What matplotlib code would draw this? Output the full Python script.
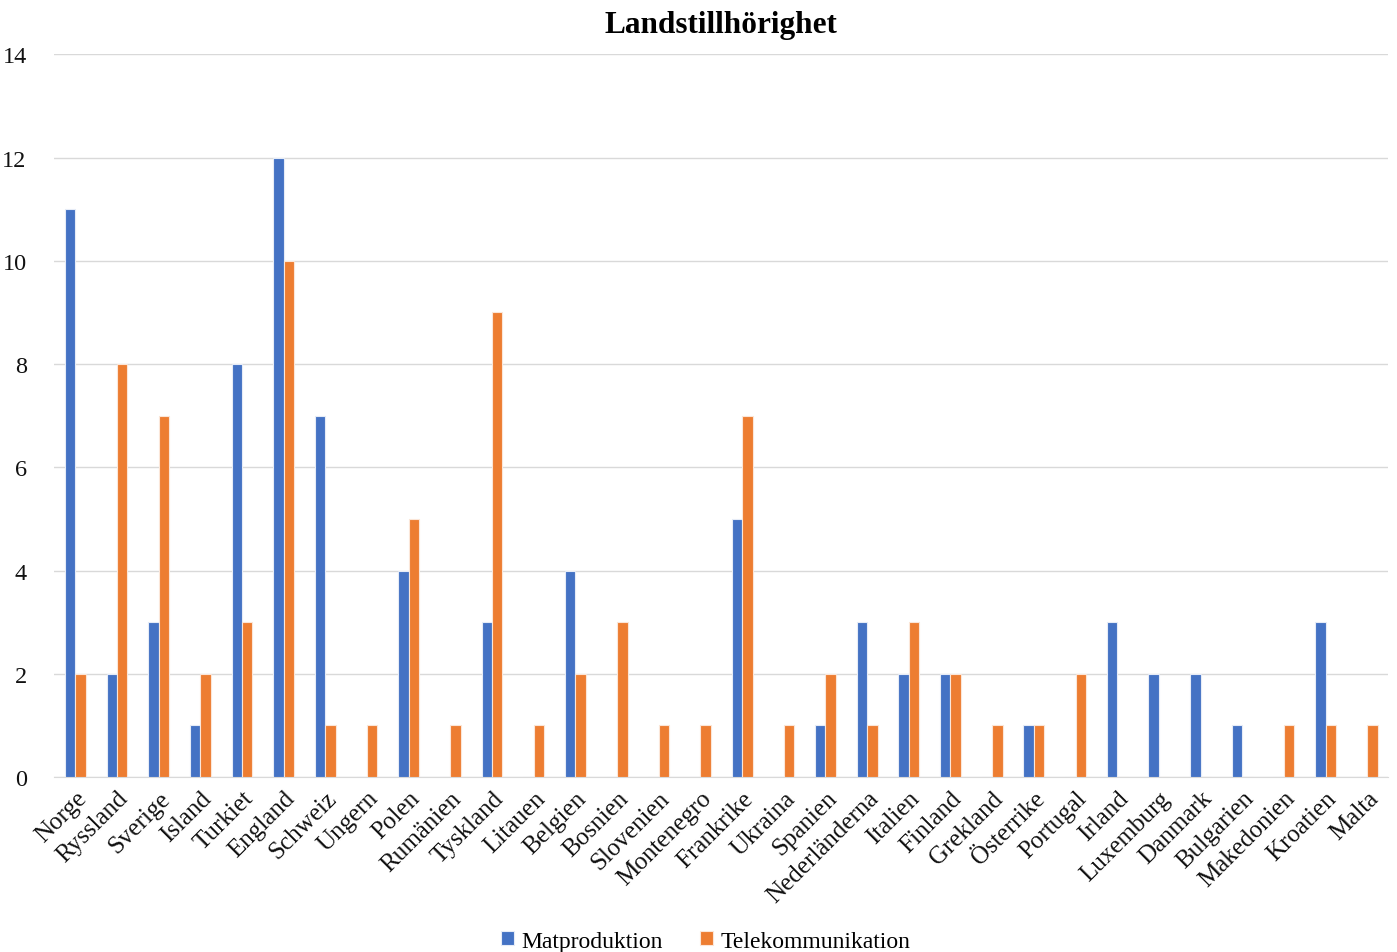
import numpy as np
import matplotlib
matplotlib.use("Agg")
import matplotlib.pyplot as plt

plt.rcParams['font.family'] = ['Liberation Serif', 'DejaVu Serif']

countries = ['Norge', 'Ryssland', 'Sverige', 'Island', 'Turkiet', 'England', 'Schweiz',
             'Ungern', 'Polen', 'Rumänien', 'Tyskland', 'Litauen', 'Belgien', 'Bosnien',
             'Slovenien', 'Montenegro', 'Frankrike', 'Ukraina', 'Spanien', 'Nederländerna',
             'Italien', 'Finland', 'Grekland', 'Österrike', 'Portugal', 'Irland',
             'Luxemburg', 'Danmark', 'Bulgarien', 'Makedonien', 'Kroatien', 'Malta']
matproduktion = [11, 2, 3, 1, 8, 12, 7, 0, 4, 0, 3, 0, 4, 0, 0, 0, 5, 0, 1, 3,
                 2, 2, 0, 1, 0, 3, 2, 2, 1, 0, 3, 0]
telekom = [2, 8, 7, 2, 3, 10, 1, 1, 5, 1, 9, 1, 2, 3, 1, 1, 7, 1, 2, 1,
           3, 2, 1, 1, 2, 0, 0, 0, 0, 1, 1, 1]

fig = plt.figure(figsize=(13.97, 9.53), dpi=100)
ax = fig.add_axes([0.039, 0.1836, 0.9546, 0.7584])

x = np.arange(len(countries))
width = 0.25
ax.bar(x - width / 2, matproduktion, width=width, color='#4472C4',
       edgecolor='#e6ecf7', linewidth=0.8, label='Matproduktion', zorder=3)
ax.bar(x + width / 2, telekom, width=width, color='#ED7D31',
       edgecolor='#fbe6d8', linewidth=0.8, label='Telekommunikation', zorder=3)

ax.set_xlim(-0.5, len(countries) - 0.5)
ax.set_ylim(0, 14)
ax.set_yticks(range(0, 15, 2))
ax.yaxis.grid(True, color='#d9d9d9', linewidth=1, zorder=0)
for s in ['top', 'right', 'left']:
    ax.spines[s].set_visible(False)
ax.spines['bottom'].set_color('#d9d9d9')
ax.tick_params(axis='both', length=0, labelsize=17.5, labelcolor='#111111')
ax.tick_params(axis='y', pad=20)
ax.tick_params(axis='x', labelsize=18, pad=7)
ax.set_xticks(x)
ax.set_xticklabels(countries, rotation=45, ha='right', rotation_mode='anchor')

ax.set_title('Landstillhörighet', fontsize=22.5, fontweight='bold', pad=16)
fig.legend(loc='lower center', bbox_to_anchor=(0.505, -0.022), ncol=2, frameon=False,
           fontsize=17, handlelength=0.55, handleheight=0.55, handletextpad=0.3,
           columnspacing=1.6)

fig.savefig('out.png', dpi=100)
